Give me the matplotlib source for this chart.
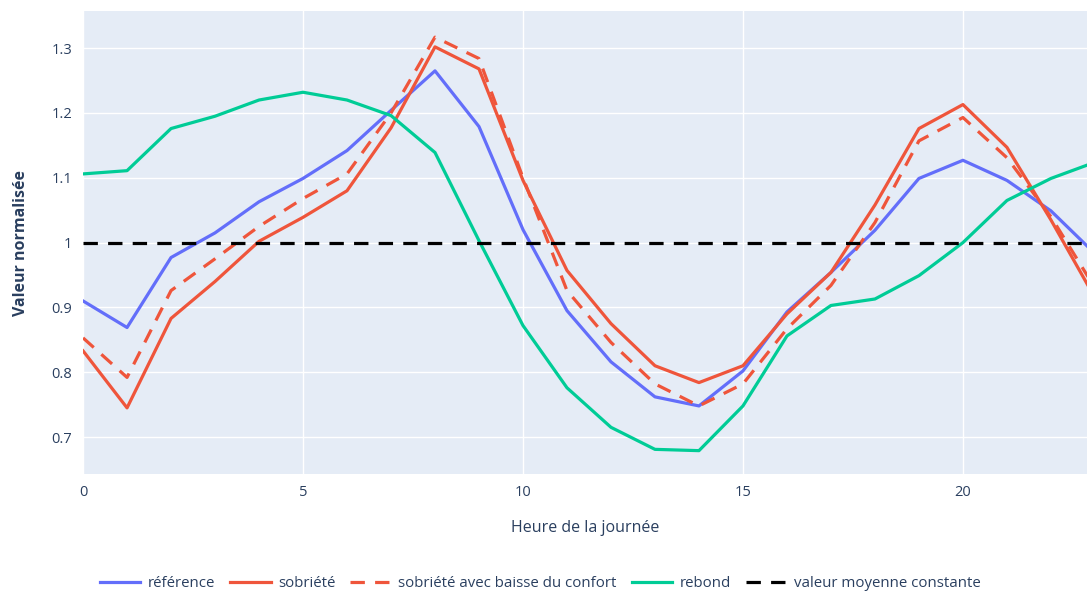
import numpy as np
import matplotlib
matplotlib.use("Agg")
import matplotlib.pyplot as plt
from matplotlib.ticker import FuncFormatter

# Data
hours = list(range(24))
reference = [0.910, 0.869, 0.977, 1.015, 1.063, 1.099, 1.142, 1.204, 1.265, 1.179,
             1.020, 0.895, 0.816, 0.762, 0.748, 0.802, 0.893, 0.954, 1.019, 1.099,
             1.127, 1.096, 1.049, 0.983]
sobriete = [0.833, 0.745, 0.883, 0.940, 1.002, 1.039, 1.080, 1.177, 1.302, 1.268,
            1.096, 0.957, 0.875, 0.810, 0.784, 0.810, 0.890, 0.954, 1.058, 1.176,
            1.213, 1.147, 1.035, 0.915]
sobriete_confort = [0.853, 0.792, 0.926, 0.975, 1.025, 1.068, 1.106, 1.200, 1.317, 1.284,
                    1.100, 0.926, 0.846, 0.782, 0.748, 0.782, 0.867, 0.934, 1.031, 1.157,
                    1.193, 1.131, 1.040, 0.930]
rebond = [1.106, 1.111, 1.176, 1.195, 1.220, 1.232, 1.220, 1.196, 1.139, 1.003,
          0.872, 0.776, 0.715, 0.681, 0.679, 0.748, 0.856, 0.903, 0.913, 0.949,
          1.000, 1.065, 1.099, 1.124]
moyenne = [1.0] * 24

plt.rcParams['font.family'] = ['Open Sans', 'DejaVu Sans']
text_color = "#2a3f5f"

fig = plt.figure(figsize=(10.87, 5.91), dpi=100)
ax = fig.add_axes([0.0764, 0.198, 0.9236, 0.783])
ax.set_facecolor("#E5ECF6")

lw = 2.3
dash = (0, (4.5, 3.2))
ax.plot(hours, reference, color="#636EFA", lw=lw, label="référence")
ax.plot(hours, sobriete, color="#EF553B", lw=lw, label="sobriété")
ax.plot(hours, sobriete_confort, color="#EF553B", lw=lw, ls=dash,
        label="sobriété avec baisse du confort")
ax.plot(hours, rebond, color="#00CC96", lw=lw, label="rebond")
ax.plot(hours, moyenne, color="black", lw=lw, ls=dash,
        label="valeur moyenne constante")

ax.set_xlim(0, 22.82)
ax.set_ylim(0.643, 1.357)
ax.set_xticks([0, 5, 10, 15, 20])
ax.set_yticks([0.7, 0.8, 0.9, 1.0, 1.1, 1.2, 1.3])
ax.yaxis.set_major_formatter(FuncFormatter(lambda v, p: f"{v:g}"))
ax.grid(True, color="white", lw=1.0)
ax.set_axisbelow(True)
for s in ax.spines.values():
    s.set_visible(False)
ax.tick_params(length=0, colors=text_color, labelsize=10.5, pad=8)

ax.set_xlabel("Heure de la journée", color=text_color, fontsize=11.5, labelpad=14)
ax.set_ylabel("Valeur normalisée", color=text_color, fontsize=11.5,
              fontweight="bold", labelpad=16)

fig.legend(loc="lower center", bbox_to_anchor=(0.497, -0.02), ncol=5, frameon=False,
           fontsize=10.8, handlelength=2.7, columnspacing=1.0, handletextpad=0.5,
           labelcolor=text_color, borderpad=0.3)

fig.savefig("out.png", dpi=100, facecolor="white")
